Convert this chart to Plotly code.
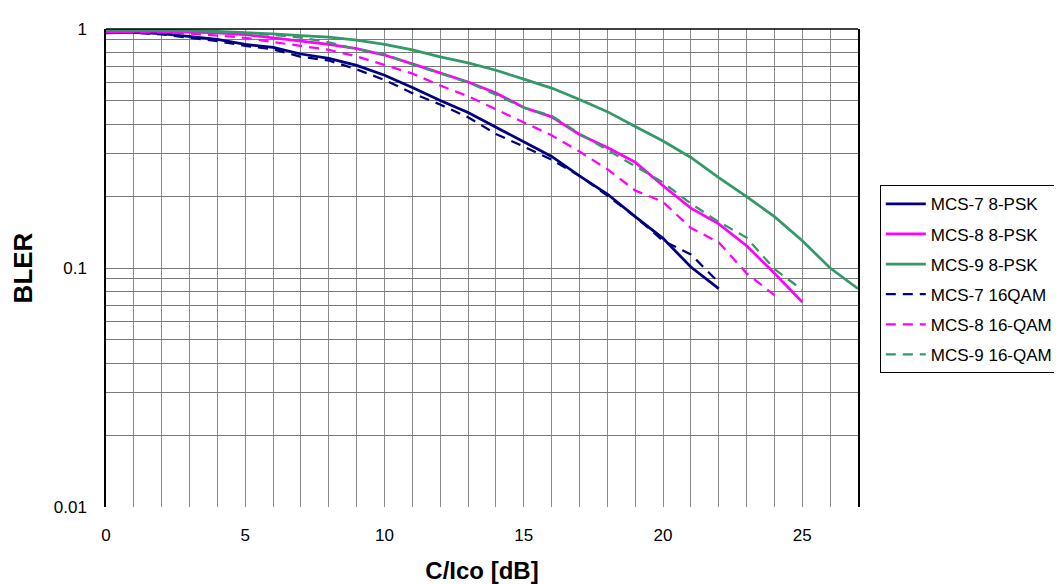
import plotly.graph_objects as go

x_vals = list(range(0, 28))

mcs7_8psk = [0.963, 0.969, 0.957, 0.934, 0.905, 0.863, 0.837, 0.786, 0.754, 0.704, 0.641, 0.569,
             0.502, 0.447, 0.388, 0.337, 0.293, 0.243, 0.204, 0.164, 0.133, 0.101, 0.082]
mcs8_8psk = [0.969, 0.978, 0.978, 0.972, 0.963, 0.948, 0.919, 0.890, 0.863, 0.828, 0.778, 0.715,
             0.655, 0.600, 0.540, 0.469, 0.429, 0.362, 0.319, 0.277, 0.221, 0.178, 0.153, 0.124,
             0.095, 0.072]
mcs9_8psk = [0.990, 0.990, 0.990, 0.985, 0.978, 0.969, 0.954, 0.939, 0.925, 0.899, 0.863, 0.818,
             0.765, 0.722, 0.672, 0.617, 0.566, 0.507, 0.451, 0.391, 0.340, 0.290, 0.239, 0.199,
             0.164, 0.130, 0.100, 0.082]
mcs7_16qam = [0.963, 0.965, 0.950, 0.920, 0.890, 0.850, 0.822, 0.765, 0.738, 0.678, 0.612, 0.539,
              0.483, 0.427, 0.364, 0.322, 0.284, 0.243, 0.201, 0.164, 0.130, 0.114, 0.087]
mcs8_16qam = [0.969, 0.972, 0.969, 0.957, 0.939, 0.919, 0.882, 0.850, 0.818, 0.768, 0.708, 0.651,
              0.580, 0.523, 0.461, 0.407, 0.359, 0.307, 0.259, 0.211, 0.189, 0.147, 0.128, 0.095,
              0.077]
mcs9_16qam = [0.987, 0.987, 0.985, 0.980, 0.972, 0.960, 0.945, 0.920, 0.880, 0.823, 0.786, 0.710,
              0.650, 0.598, 0.531, 0.469, 0.433, 0.365, 0.312, 0.267, 0.228, 0.186, 0.156, 0.134,
              0.099, 0.081]

series = [
    ("MCS-7 8-PSK", mcs7_8psk, "#000080", "solid", 2.75),
    ("MCS-8 8-PSK", mcs8_8psk, "#FF00FF", "solid", 2.75),
    ("MCS-9 8-PSK", mcs9_8psk, "#339966", "solid", 2.75),
    ("MCS-7 16QAM", mcs7_16qam, "#000080", "10px,7px", 2.25),
    ("MCS-8 16-QAM", mcs8_16qam, "#FF00FF", "10px,7px", 2.25),
    ("MCS-9 16-QAM", mcs9_16qam, "#339966", "10px,7px", 2.25),
]

y_tickvals = [m * 10 ** e for e in (-2, -1) for m in range(1, 10)] + [1]
y_ticktext = ["0.01" if v == 0.01 else "0.1" if v == 0.1 else "1" if v == 1 else "" for v in y_tickvals]

FONT = "Liberation Sans, Arial, sans-serif"

fig = go.Figure()
for i, (name, vals, color, dash, w) in enumerate(series):
    fig.add_trace(go.Scatter(
        x=x_vals[:len(vals)], y=vals, mode="lines", name=name,
        line=dict(color=color, dash=dash, width=w),
        legendgroup=f"g{i}",
    ))

fig.update_layout(
    width=1062, height=584,
    margin=dict(l=93, r=211, t=16, b=78),
    paper_bgcolor="white", plot_bgcolor="white",
    font=dict(family=FONT, color="black", size=17),
    legend=dict(
        x=1.029, y=0.673, xanchor="left", yanchor="top",
        bordercolor="black", borderwidth=1, bgcolor="white",
        font=dict(size=17, family=FONT), tracegroupgap=5,
        traceorder="grouped", itemwidth=40,
    ),
    showlegend=True,
    shapes=[dict(type="line", xref="paper", yref="paper", x0=0, x1=1, y0=1, y1=1,
                 line=dict(color="black", width=1.5))],
)

fig.update_xaxes(
    range=[0, 27], tickmode="linear", tick0=0, dtick=5,
    showgrid=True, gridcolor="#8a8a8a", gridwidth=1,
    minor=dict(dtick=1, showgrid=True, gridcolor="#8a8a8a", gridwidth=1),
    showline=False, zeroline=False, ticks="", ticklabelstandoff=16,
    tickfont=dict(size=17),
    title=dict(text="<b>C/Ico [dB]</b>", font=dict(size=24), standoff=18),
)
fig.update_yaxes(
    type="log", range=[-2, 0],
    tickmode="array", tickvals=y_tickvals, ticktext=y_ticktext,
    showgrid=True, gridcolor="#7a7a7a", gridwidth=1,
    showline=True, linecolor="black", linewidth=1.5, mirror=True,
    zeroline=False, ticks="", ticklabelstandoff=14,
    tickfont=dict(size=17),
    title=dict(text="<b>BLER</b>", font=dict(size=26), standoff=16),
)

fig.write_html("out.html")
